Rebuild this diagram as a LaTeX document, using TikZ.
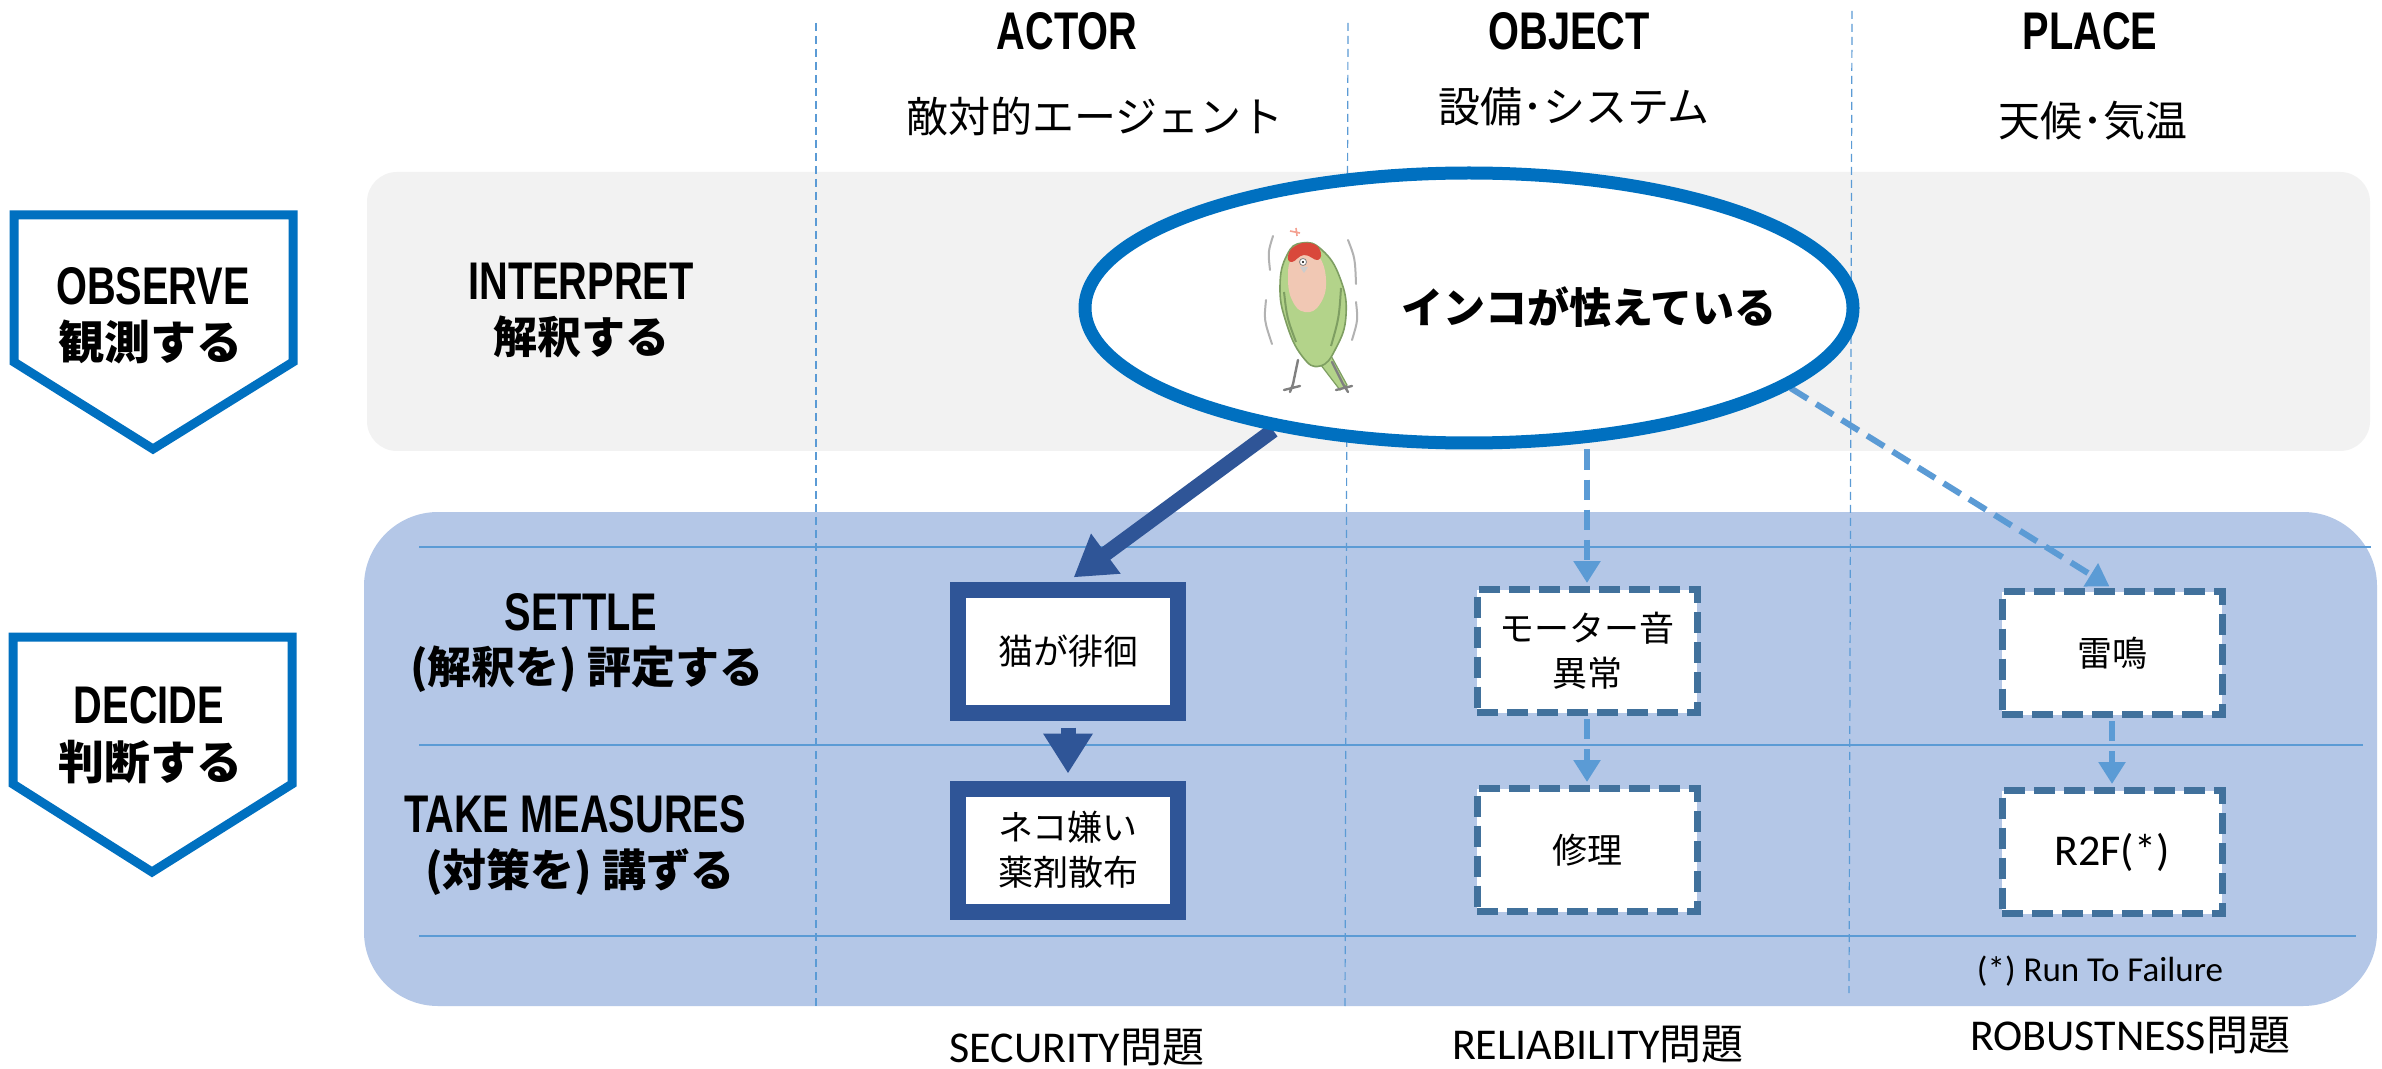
\documentclass[tikz,border=0pt]{standalone}
\usepackage{fontspec}
\usetikzlibrary{arrows.meta,shapes.geometric}
\setmainfont{Noto Sans CJK JP}
\newfontfamily\jpfont{Noto Sans CJK JP}
\newfontfamily\latbfont{Liberation Sans}[FakeStretch=0.75]
\newfontfamily\calfont{Carlito}

\definecolor{ribbon}{HTML}{0070C0}
\definecolor{navy}{HTML}{2F5597}
\definecolor{steel}{HTML}{41719C}
\definecolor{sky}{HTML}{5B9BD5}
\definecolor{paleblue}{HTML}{B4C7E7}
\definecolor{palegray}{HTML}{F2F2F2}
\definecolor{birdgreen}{HTML}{B3D38A}
\definecolor{birdline}{HTML}{7E9E62}
\definecolor{birdpink}{HTML}{F1C8B4}
\definecolor{birdred}{HTML}{D9483B}

\pgfdeclarelayer{back}
\pgfdeclarelayer{mid}
\pgfsetlayers{back,mid,main}

\begin{document}
\begin{tikzpicture}[x=0.5pt,y=-0.5pt,
  lat/.style={font=\latbfont\bfseries\fontsize{26.5}{30}\selectfont, inner sep=0},
  jphead/.style={font=\jpfont\fontsize{21}{25}\selectfont, inner sep=0},
  jpbold/.style={font=\jpfont\bfseries\fontsize{22}{26}\selectfont, inner sep=0},
  boxtxt/.style={font=\jpfont\fontsize{17.5}{22.5}\selectfont, align=center},
  solidbox/.style={draw=navy, line width=8pt, fill=white, minimum width=110pt, minimum height=61.5pt, inner sep=0, boxtxt},
  dashbox/.style={draw=steel, line width=3.5pt, dash pattern=on 10.5pt off 4.5pt, fill=white, minimum width=110pt, minimum height=61.5pt, inner sep=0, boxtxt},
  solidarrow/.style={draw=navy, line width=7.5pt, -{Triangle[length=20pt,width=23.5pt]}},
  dasharrow/.style={draw=sky, line width=3pt, dash pattern=on 10pt off 5pt, -{Triangle[length=11pt,width=13pt]}},
  gridline/.style={draw=sky, line width=1pt},
  colline/.style={draw=sky, line width=0.6pt, dash pattern=on 4pt off 2.5pt},
  chevron/.style={draw=ribbon, line width=4.5pt, fill=white, line join=miter},
  foot/.style={inner sep=0, font=\fontsize{21}{25}\selectfont}
]
\useasboundingbox (0,0) rectangle (2382,1069);

% ---------- bands, grid lines and column separators ----------
\begin{pgfonlayer}{back}
  \fill[white] (0,0) rectangle (2382,1069);
  \fill[palegray, rounded corners=15pt] (367,172) rectangle (2370,451);
  \fill[paleblue, rounded corners=37pt] (364,512) rectangle (2377,1006);
  \draw[gridline] (419,547) -- (2371,547);
  \draw[gridline] (419,745) -- (2363,745);
  \draw[gridline] (419,936) -- (2356,936);
  \draw[colline] (816,23) -- (816,1010);
  \draw[colline] (1348,23) -- (1345,1006);
  \draw[colline] (1852,11) -- (1849,993);
\end{pgfonlayer}

% ---------- stage chevrons ----------
\draw[chevron] (14,215) -- (293,215) -- (293,362) -- (153,449) -- (14,362) -- cycle;
\draw[chevron] (13,637) -- (292,637) -- (292,784) -- (152,872) -- (13,784) -- cycle;
\node[lat] (obs) at (153,286) {OBSERVE};
\node[jpbold, font=\jpfont\bfseries\fontsize{23}{27}\selectfont] (obsj) at (150,342) {観測する};
\node[lat] (dec) at (149,705) {DECIDE};
\node[jpbold, font=\jpfont\bfseries\fontsize{23}{27}\selectfont] (decj) at (150,762) {判断する};

% ---------- column headers ----------
\node[lat] (hActor) at (1067,31) {ACTOR};
\node[lat] (hObject) at (1569,31) {OBJECT};
\node[lat] (hPlace) at (2090,31) {PLACE};
\node[jphead] (jActor) at (1095,117) {敵対的エージェント};
\node[jphead] (jObject) at (1574,107) {設備･システム};
\node[jphead] (jPlace) at (2093,121) {天候･気温};

% ---------- row labels ----------
\node[lat] (rInt) at (581,281) {INTERPRET};
\node[jpbold] (rIntj) at (581,337) {解釈する};
\node[lat] (rSet) at (581,612) {SETTLE};
\node[jpbold] (rSetj) at (587,669) {(解釈を) 評定する};
\node[lat] (rTak) at (575,814) {TAKE MEASURES};
\node[jpbold] (rTakj) at (580,872) {(対策を) 講ずる};

% ---------- observation ellipse ----------
\node[ellipse, draw=ribbon, line width=6.5pt, fill=white, minimum width=384pt, minimum height=135pt, inner sep=0] (ell) at (1469,308) {};
\node[inner sep=0, font=\jpfont\bfseries\fontsize{21}{25}\selectfont] (etxt) at (1589,307) {インコが怯えている};

% frightened parakeet
\begin{scope}
  \draw[gray!60, line width=1pt, line cap=round] (1273,236) .. controls (1268,252) .. (1270,270);
  \draw[gray!60, line width=1pt, line cap=round] (1266,300) .. controls (1264,320) .. (1272,344);
  \draw[gray!60, line width=1pt, line cap=round] (1348,240) .. controls (1355,258) .. (1356,284);
  \draw[gray!60, line width=1pt, line cap=round] (1356,302) .. controls (1358,320) .. (1352,340);
  \draw[birdpink!80!red, line width=0.8pt] (1290,231) -- (1300,233) (1296,228) -- (1297,236);
  \fill[birdgreen, draw=birdline, line width=0.6pt] (1314,356) -- (1340,390) -- (1347,385) -- (1330,354) -- cycle;
  \fill[birdgreen, draw=birdline, line width=0.8pt] plot[smooth cycle, tension=0.8] coordinates
    {(1302,243) (1322,250) (1340,278) (1346,315) (1336,348) (1320,366) (1302,356) (1286,322) (1280,286) (1287,255)};
  \fill[birdpink] plot[smooth cycle, tension=0.8] coordinates
    {(1292,258) (1304,250) (1318,255) (1326,280) (1320,304) (1305,312) (1292,300) (1288,276)};
  \fill[birdred] plot[smooth cycle, tension=0.8] coordinates
    {(1288,256) (1295,246) (1310,243) (1320,250) (1318,260) (1304,255) (1292,262)};
  \fill[white, draw=gray, line width=0.4pt] (1303,262) circle[radius=3.5];
  \fill[black] (1303,262) circle[radius=1.2];
  \fill[gray!40] (1300,267) -- (1308,267) -- (1304,273) -- cycle;
  \draw[birdline, line width=1pt] (1284,292) .. controls (1287,318) .. (1296,342);
  \draw[birdline, line width=1pt] (1341,288) .. controls (1339,318) .. (1331,346);
  \draw[gray, line width=1.2pt, line cap=round] (1298,360) -- (1293,384) (1284,390) -- (1300,386) (1293,384) -- (1290,392);
  \draw[gray, line width=1.2pt, line cap=round] (1332,362) -- (1343,384) (1336,390) -- (1352,386) (1343,384) -- (1348,392);
\end{scope}

% ---------- decision boxes ----------
\node[solidbox] (cat) at (1068,651) {猫が徘徊};
\node[solidbox] (spray) at (1068,850) {ネコ嫌い\\薬剤散布};
\node[dashbox] (motor) at (1587,651) {モーター音\\異常};
\node[dashbox] (repair) at (1587,850) {修理};
\node[dashbox] (thunder) at (2112,653) {雷鳴};
\node[dashbox, font=\calfont\fontsize{22}{26}\selectfont] (r2f) at (2112,852) {R2F(*)};

% ---------- connectors ----------
\begin{pgfonlayer}{mid}
  \draw[solidarrow, shorten >=3.5pt] (ell.212) -- (cat.north);
  \draw[dasharrow, shorten >=1.5pt] (ell.south -| motor.north) -- (motor.north);
  \draw[dasharrow, shorten >=1.5pt] (ell.-14) -- (thunder.north);
\end{pgfonlayer}
\draw[solidarrow, shorten <=3.5pt, shorten >=3.5pt] (cat.south) -- (spray.north);
\draw[dasharrow, shorten <=1.5pt, shorten >=1.5pt] (motor.south) -- (repair.north);
\draw[dasharrow, shorten <=1.5pt, shorten >=1.5pt] (thunder.south) -- (r2f.north);

% ---------- footnotes ----------
\node[inner sep=0, font=\calfont\fontsize{17.5}{21}\selectfont] (note) at (2100,971) {(*) Run To Failure};
\node[foot] (fSec) at (1077,1047) {{\calfont\fontsize{22}{26}\selectfont SECURITY}問題};
\node[foot] (fRel) at (1598,1044) {{\calfont\fontsize{22}{26}\selectfont RELIABILITY}問題};
\node[foot] (fRob) at (2130,1035) {{\calfont\fontsize{22}{26}\selectfont ROBUSTNESS}問題};
\end{tikzpicture}
\end{document}
